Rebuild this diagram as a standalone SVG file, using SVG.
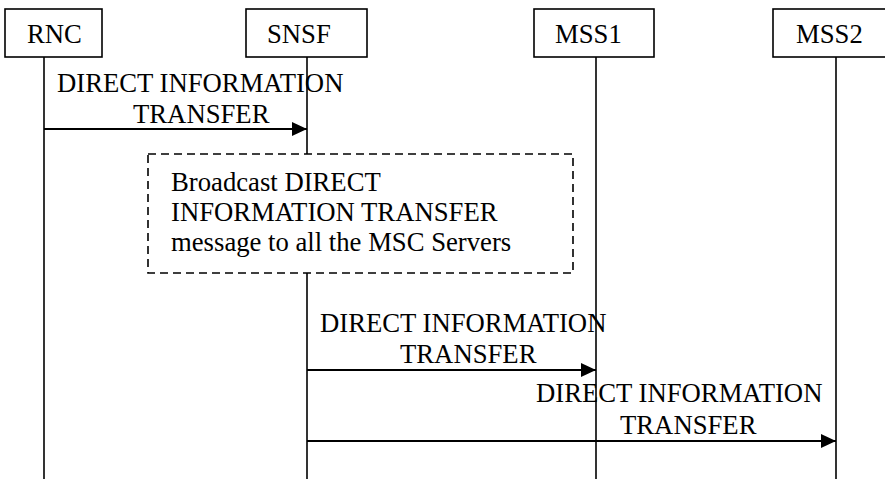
<svg xmlns="http://www.w3.org/2000/svg" width="885" height="479" viewBox="0 0 885 479">
<style>
text{font-family:"Liberation Serif","Times New Roman",serif;font-size:26.7px;fill:#000}
.box{fill:#fff;stroke:#000;stroke-width:1.6}
.life{stroke:#000;stroke-width:1.6;fill:none}
.msg{stroke:#000;stroke-width:2.2;fill:none}
.note{fill:#fff;stroke:#000;stroke-width:1.6;stroke-dasharray:8 5}
</style>
<defs>
<marker id="ah" markerWidth="16" markerHeight="14" refX="15" refY="7" orient="auto" markerUnits="userSpaceOnUse">
<path d="M0,0 L15,7 L0,14 Z" fill="#000"/>
</marker>
</defs>
<rect width="885" height="479" fill="#fff"/>
<g id="lifelines">
<line class="life" x1="44" y1="57" x2="44" y2="479"/>
<line class="life" x1="307" y1="57" x2="307" y2="479"/>
<line class="life" x1="596" y1="57" x2="596" y2="479"/>
<line class="life" x1="836" y1="57" x2="836" y2="479"/>
</g>
<g id="RNC"><rect class="box" x="5" y="9" width="97" height="48"/><text x="27" y="43">RNC</text></g>
<g id="SNSF"><rect class="box" x="246" y="9" width="121" height="48"/><text x="267" y="43">SNSF</text></g>
<g id="MSS1"><rect class="box" x="534" y="9" width="120" height="48"/><text x="555" y="43">MSS1</text></g>
<g id="MSS2"><rect class="box" x="773" y="9" width="125" height="48"/><text x="796" y="43">MSS2</text></g>
<g id="broadcast">
<rect class="note" x="148" y="154" width="425" height="119"/>
<text x="171" y="191">Broadcast DIRECT</text>
<text x="171" y="221">INFORMATION TRANSFER</text>
<text x="171" y="251">message to all the MSC Servers</text>
</g>
<g id="connectors">
<line class="msg" x1="44" y1="129" x2="307" y2="129" marker-end="url(#ah)"/>
<text x="57" y="92">DIRECT INFORMATION</text>
<text x="133" y="123">TRANSFER</text>
<line class="msg" x1="307" y1="370" x2="596" y2="370" marker-end="url(#ah)"/>
<text x="320" y="332">DIRECT INFORMATION</text>
<text x="400" y="363">TRANSFER</text>
<line class="msg" x1="307" y1="441" x2="836" y2="441" marker-end="url(#ah)"/>
<text x="536" y="402">DIRECT INFORMATION</text>
<text x="620" y="434">TRANSFER</text>
</g>
</svg>
